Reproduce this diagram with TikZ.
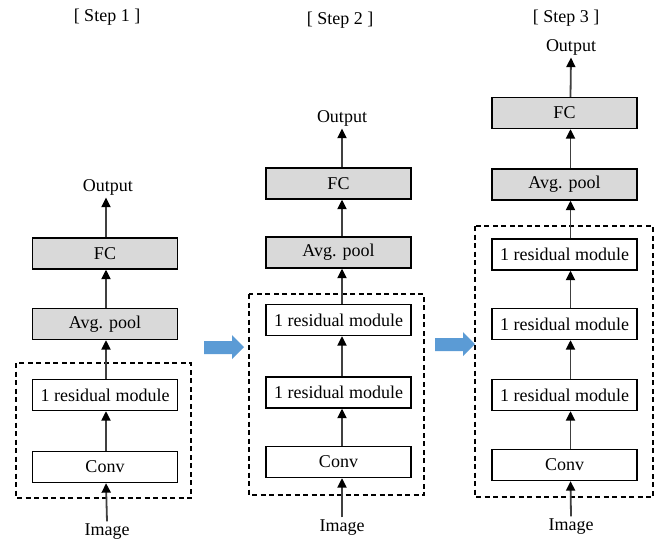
\documentclass[tikz,border=0pt]{standalone}
\usepackage{fontspec}
\setmainfont{Liberation Serif}
\usetikzlibrary{arrows.meta}
\definecolor{boxgray}{HTML}{D9D9D9}
\definecolor{bluearr}{HTML}{5B9BD5}
\definecolor{linegray}{HTML}{404040}
\tikzset{
  wbox/.style={draw=black, line width=1.3pt, fill=white, minimum width=145pt, minimum height=31pt, inner sep=0pt, font=\fontsize{18}{20}\selectfont},
  gbox/.style={wbox, fill=boxgray},
  lbl/.style={inner sep=2.5pt, font=\fontsize{18}{20}\selectfont},
  arr/.style={draw=linegray, line width=1.8pt, -{Triangle[width=9pt,length=9.5pt,color=black]}},
  dbox/.style={draw=black, line width=1.2pt, dash pattern=on 5pt off 3.5pt},
  barr/.style={fill=bluearr, draw=none}
}
\begin{document}
\begin{tikzpicture}[x=1pt,y=-1pt]
\useasboundingbox (0,0) rectangle (657,541);
% ---------- Step 1 ----------
\node[lbl] (s1) at (107,17) {[ Step 1 ]};
\node[lbl] (o1) at (108,187) {Output};
\node[gbox] (fc1) at (105,253.5) {FC};
\node[gbox] (ap1) at (105,324) {Avg. pool};
\node[wbox] (r1a) at (105,395) {1 residual module};
\node[wbox] (cv1) at (105,467) {Conv};
\node[lbl] (im1) at (107,532) {Image};
\draw[dbox] (16,363) rectangle (191,498);
\draw[arr] (im1.north) -- ([xshift=1pt]cv1.south);
\draw[arr] ([xshift=1pt]cv1.north) -- ([xshift=1pt]r1a.south);
\draw[arr] ([xshift=1pt]r1a.north) -- ([xshift=1pt]ap1.south);
\draw[arr] ([xshift=1pt]ap1.north) -- ([xshift=1pt]fc1.south);
\draw[arr] ([xshift=1pt]fc1.north) -- ([xshift=-2pt]o1.south);
% ---------- blue arrow 1 ----------
\fill[barr] (204,341) -- (232,341) -- (232,335) -- (244,347) -- (232,359) -- (232,354) -- (204,354) -- cycle;
% ---------- Step 2 ----------
\node[lbl] (s2) at (340,20) {[ Step 2 ]};
\node[lbl] (o2) at (342,118) {Output};
\node[gbox] (fc2) at (338.5,183.5) {FC};
\node[gbox] (ap2) at (338.5,252.5) {Avg. pool};
\node[wbox] (r2a) at (338.5,320) {1 residual module};
\node[wbox] (r2b) at (338.5,392.5) {1 residual module};
\node[wbox] (cv2) at (338.5,462) {Conv};
\node[lbl] (im2) at (342,528) {Image};
\draw[dbox] (249,294) rectangle (424,495);
\draw[arr] (im2.north) -- ([xshift=3.5pt]cv2.south);
\draw[arr] ([xshift=3.5pt]cv2.north) -- ([xshift=3.5pt]r2b.south);
\draw[arr] ([xshift=3.5pt]r2b.north) -- ([xshift=3.5pt]r2a.south);
\draw[arr] ([xshift=3.5pt]r2a.north) -- ([xshift=3.5pt]ap2.south);
\draw[arr] ([xshift=3.5pt]ap2.north) -- ([xshift=3.5pt]fc2.south);
\draw[arr] ([xshift=3.5pt]fc2.north) -- (o2.south);
% ---------- blue arrow 2 ----------
\fill[barr] (435,338) -- (463,338) -- (463,332) -- (475,344) -- (463,356) -- (463,351) -- (435,351) -- cycle;
% ---------- Step 3 ----------
\node[lbl] (s3) at (566,18) {[ Step 3 ]};
\node[lbl] (o3) at (571,47) {Output};
\node[gbox] (fc3) at (564.5,113) {FC};
\node[gbox] (ap3) at (564.5,184.5) {Avg. pool};
\node[wbox] (r3a) at (564.5,254.5) {1 residual module};
\node[wbox] (r3b) at (564.5,324) {1 residual module};
\node[wbox] (r3c) at (564.5,395) {1 residual module};
\node[wbox] (cv3) at (564.5,465) {Conv};
\node[lbl] (im3) at (571,527) {Image};
\draw[dbox] (475,226) rectangle (653,497);
\draw[arr] (im3.north) -- ([xshift=6pt]cv3.south);
\draw[arr] ([xshift=6pt]cv3.north) -- ([xshift=6pt]r3c.south);
\draw[arr] ([xshift=6pt]r3c.north) -- ([xshift=6pt]r3b.south);
\draw[arr] ([xshift=6pt]r3b.north) -- ([xshift=6pt]r3a.south);
\draw[arr] ([xshift=6pt]r3a.north) -- ([xshift=6pt]ap3.south);
\draw[arr] ([xshift=6pt]ap3.north) -- ([xshift=6pt]fc3.south);
\draw[arr] ([xshift=6pt]fc3.north) -- (o3.south);
\end{tikzpicture}
\end{document}
